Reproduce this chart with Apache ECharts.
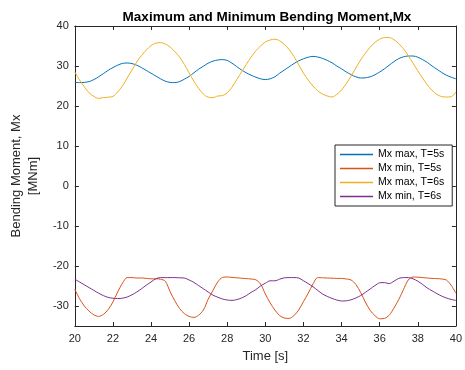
<!DOCTYPE html>
<html>
<head>
<meta charset="utf-8">
<style>
  html, body { margin: 0; padding: 0; background: #fff; }
  #chart { width: 465px; height: 370px; }
</style>
<script src="https://cdn.jsdelivr.net/npm/echarts@6/dist/echarts.min.js"></script>
</head>
<body>
<div id="chart"></div>
<script>
// Sample times [s]
const time = [
  20.00, 20.25, 20.50, 20.75, 21.00, 21.25, 21.50, 21.75, 22.00, 22.25,
  22.50, 22.75, 23.00, 23.25, 23.50, 23.75, 24.00, 24.25, 24.50, 24.75,
  25.00, 25.25, 25.50, 25.75, 26.00, 26.25, 26.50, 26.75, 27.00, 27.25,
  27.50, 27.75, 28.00, 28.25, 28.50, 28.75, 29.00, 29.25, 29.50, 29.75,
  30.00, 30.25, 30.50, 30.75, 31.00, 31.25, 31.50, 31.75, 32.00, 32.25,
  32.50, 32.75, 33.00, 33.25, 33.50, 33.75, 34.00, 34.25, 34.50, 34.75,
  35.00, 35.25, 35.50, 35.75, 36.00, 36.25, 36.50, 36.75, 37.00, 37.25,
  37.50, 37.75, 38.00, 38.25, 38.50, 38.75, 39.00, 39.25, 39.50, 39.75,
  40.00
];

// Bending moment Mx [MNm]
const mxMaxT5 = [
  25.9, 25.85, 25.9, 26.1, 26.6, 27.3, 28.1, 28.9, 29.6, 30.2,
  30.65, 30.75, 30.6, 30.2, 29.6, 28.9, 28.2, 27.5, 26.8, 26.2,
  25.9, 25.85, 26.1, 26.7, 27.4, 28.3, 29.2, 29.95, 30.7, 31.2,
  31.5, 31.6, 31.4, 30.7, 29.85, 29.0, 28.3, 27.7, 27.2, 26.8,
  26.6, 26.8, 27.3, 28.2, 29.0, 29.8, 30.6, 31.3, 31.8, 32.2,
  32.4, 32.25, 31.9, 31.4, 30.8, 30.0, 29.3, 28.5, 27.85, 27.3,
  27.0, 27.05, 27.3, 27.8, 28.5, 29.3, 30.2, 31.1, 31.85, 32.3,
  32.5, 32.5, 32.2, 31.6, 30.9, 30.0, 29.2, 28.4, 27.7, 27.2,
  26.8
];

const mxMinT5 = [
  -25.8, -28.2, -30.0, -31.3, -32.2, -32.6, -32.1, -30.9, -29.0, -26.5,
  -24.3, -22.9, -22.9, -23.0, -23.0, -23.1, -23.2, -23.2, -23.3, -23.8,
  -26.4, -28.7, -30.65, -31.9, -32.6, -32.85, -32.3, -31.0, -28.3, -26.1,
  -24.0, -22.85, -22.75, -22.85, -22.95, -23.05, -23.15, -23.25, -23.45, -24.5,
  -27.0, -29.2, -31.0, -32.4, -33.0, -33.1, -32.4, -31.0, -28.9, -26.8,
  -24.5, -22.9, -22.95, -23.0, -23.05, -23.1, -23.1, -23.25, -23.5, -24.6,
  -26.6, -29.0, -31.1, -32.4, -33.2, -33.1, -32.3, -30.5, -28.4, -25.9,
  -23.5, -22.75, -22.8, -22.9, -23.0, -23.1, -23.15, -23.25, -23.5, -24.8,
  -26.8
];

const mxMaxT6 = [
  28.5, 26.5, 24.8, 23.3, 22.4, 21.9, 22.1, 22.2, 22.4, 23.5,
  25.0, 27.0, 29.0, 31.0, 32.6, 34.0, 35.1, 35.7, 35.85, 35.5,
  34.75, 33.6, 32.25, 30.4, 28.25, 26.2, 24.4, 23.0, 22.2, 22.1,
  22.5, 22.6, 23.3, 24.7, 26.6, 28.5, 30.4, 32.2, 33.8, 35.0,
  36.0, 36.5, 36.7, 36.3, 35.4, 34.1, 32.4, 30.3, 28.2, 26.5,
  25.0, 23.8, 23.0, 22.5, 22.25, 22.9, 24.0, 25.6, 27.5, 29.5,
  31.5, 33.2, 34.7, 35.9, 36.7, 37.1, 37.1, 36.6, 35.6, 34.3,
  32.6, 30.7, 28.8, 27.0, 25.3, 23.9, 22.9, 22.35, 22.25, 22.3,
  23.5
];

const mxMinT6 = [
  -23.3, -24.0, -24.7, -25.4, -26.1, -26.8, -27.4, -27.85, -28.05, -28.15,
  -28.05, -27.75, -27.2, -26.5, -25.7, -24.8, -24.0, -23.2, -22.9, -22.9,
  -22.9, -22.9, -22.95, -23.0, -23.5, -24.1, -24.9, -25.7, -26.5, -27.3,
  -27.8, -28.25, -28.5, -28.6, -28.4, -28.0, -27.4, -26.6, -25.9, -25.0,
  -24.3, -23.7, -23.7, -23.3, -22.95, -22.9, -22.9, -23.0, -23.7, -24.4,
  -25.2, -26.1, -27.0, -27.6, -28.1, -28.5, -28.75, -28.7, -28.45, -28.0,
  -27.4, -26.6, -25.75, -24.9, -24.2, -24.15, -24.4, -23.8, -23.1, -22.9,
  -22.9, -23.2, -23.8, -24.6, -25.5, -26.2, -26.9, -27.5, -28.0, -28.35,
  -28.6
];

const yTicks = [-30, -20, -10, 0, 10, 20, 30, 40];

const seriesDefs = [
  { name: 'Mx max, T=5s', values: mxMaxT5, color: '#0072BD' },
  { name: 'Mx min, T=5s', values: mxMinT5, color: '#D95319' },
  { name: 'Mx max, T=6s', values: mxMaxT6, color: '#EDB120' },
  { name: 'Mx min, T=6s', values: mxMinT6, color: '#7E2F8E' }
];

const FONT = '"Liberation Sans", Arial, sans-serif';
const INK = '#262626';

const chart = echarts.init(document.getElementById('chart'), null, { renderer: 'canvas' });

const tickStyle = { inside: true, length: 4, lineStyle: { color: INK, width: 1 } };
const boxLine = { show: true, onZero: false, lineStyle: { color: INK, width: 1 } };

chart.setOption({
  backgroundColor: '#ffffff',
  animation: false,
  title: {
    text: 'Maximum and Minimum Bending Moment,Mx',
    left: 262, top: 5, textAlign: 'center',
    textStyle: { fontFamily: FONT, fontSize: 13.5, fontWeight: 'bold', color: '#000' }
  },
  legend: {
    orient: 'vertical',
    left: 335, top: 145,
    padding: [4, 8, 4, 5],
    itemGap: 3,
    itemWidth: 33, itemHeight: 1.5,
    icon: 'rect',
    backgroundColor: '#fff',
    borderColor: INK, borderWidth: 1, borderRadius: 0,
    textStyle: { fontFamily: FONT, fontSize: 10.5, color: '#000', padding: [0, 0, 0, 0] },
    data: seriesDefs.map(s => s.name)
  },
  grid: { left: 62, right: 6, top: 26, bottom: 44, containLabel: false },
  xAxis: [
    {
      type: 'value', min: 20, max: 40, interval: 2,
      name: 'Time [s]', nameLocation: 'middle', nameGap: 24,
      nameTextStyle: { fontFamily: FONT, fontSize: 13, color: INK },
      axisLine: boxLine,
      axisTick: tickStyle,
      axisLabel: { fontFamily: FONT, fontSize: 11, color: INK, margin: 7 },
      splitLine: { show: false }
    },
    {
      type: 'value', min: 20, max: 40, interval: 2, position: 'top',
      axisLine: boxLine,
      axisTick: tickStyle,
      axisLabel: { show: false },
      splitLine: { show: false }
    }
  ],
  yAxis: [
    {
      type: 'value', min: -35, max: 40,
      name: 'Bending Moment, Mx\n[MNm]', nameLocation: 'middle', nameGap: 25, nameRotate: 90,
      nameTextStyle: { fontFamily: FONT, fontSize: 13, color: INK, lineHeight: 17 },
      axisLine: boxLine,
      axisTick: Object.assign({ customValues: yTicks }, tickStyle),
      axisLabel: { customValues: yTicks, fontFamily: FONT, fontSize: 11, color: INK, margin: 6 },
      splitLine: { show: false }
    },
    {
      type: 'value', min: -35, max: 40, position: 'right',
      axisLine: boxLine,
      axisTick: Object.assign({ customValues: yTicks }, tickStyle),
      axisLabel: { show: false, customValues: yTicks },
      splitLine: { show: false }
    }
  ],
  series: seriesDefs.map(s => ({
    name: s.name,
    type: 'line',
    xAxisIndex: 0, yAxisIndex: 0,
    data: time.map((t, i) => [t, s.values[i]]),
    showSymbol: false,
    smooth: 0.3,
    color: s.color,
    lineStyle: { color: s.color, width: 1 },
    emphasis: { disabled: true }
  }))
});
</script>
</body>
</html>
